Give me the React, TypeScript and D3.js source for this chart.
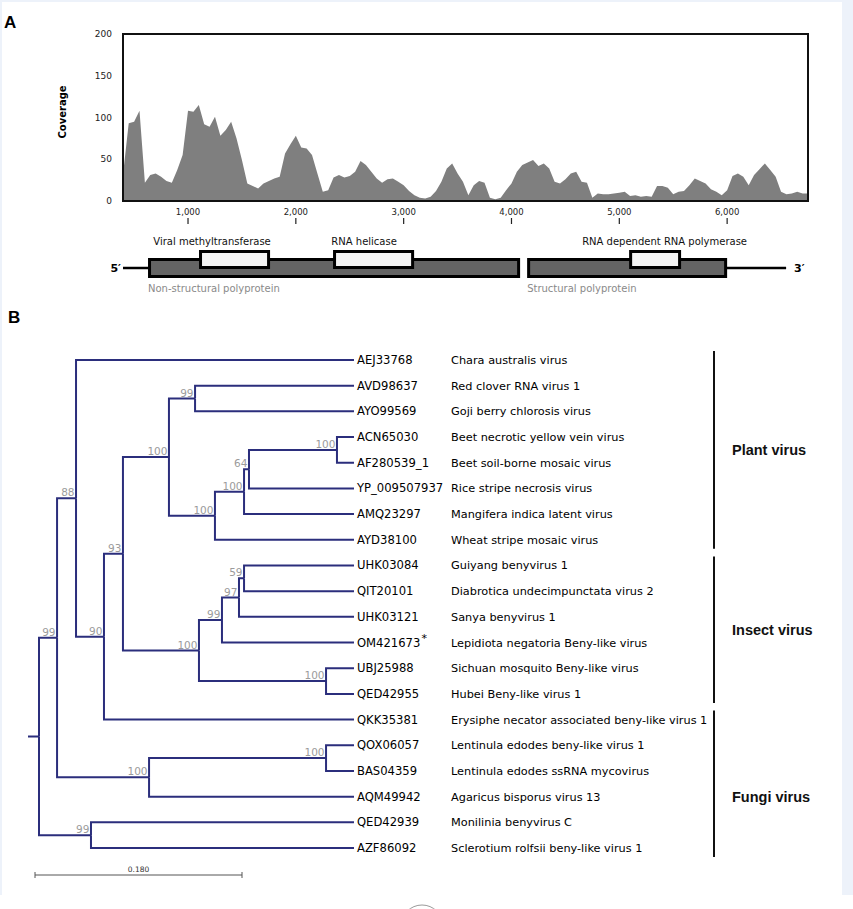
import * as d3 from 'd3';
import { useEffect, useRef } from 'react';

const W = 853;
const H = 909;

// coverage per 50 bp bin (first bin at 400 bp)
const covStart = 400;
const covStep = 50;
const coverage = [
  35, 93, 95, 108, 22, 31, 33, 29, 24, 22, 37, 55, 108, 107, 115, 92, 89, 101, 78, 85,
  95, 75, 49, 21, 18, 15, 21, 24, 27, 29, 57, 68, 78, 64, 63, 55, 33, 11, 13, 28,
  31, 28, 30, 35, 48, 43, 35, 27, 22, 26, 27, 23, 19, 12, 7, 4, 3, 5, 12, 23,
  39, 45, 33, 23, 7, 19, 24, 22, 4, 2, 4, 13, 21, 35, 43, 46, 49, 42, 45, 39,
  23, 21, 26, 33, 35, 23, 22, 4, 9, 8, 8, 9, 10, 11, 6, 7, 5, 6, 5, 18,
  18, 16, 8, 11, 12, 19, 27, 24, 21, 14, 11, 7, 13, 30, 33, 29, 19, 31, 38, 45,
  37, 29, 11, 8, 9, 11, 9, 9,
];
const yTicks = [0, 50, 100, 150, 200];
const xTicks = [1000, 2000, 3000, 4000, 5000, 6000];

// genome map (bp)
const genomeEnds: [number, number] = [397, 6547];
const genes: [string, number, number][] = [
  ['Non-structural polyprotein', 643, 4066],
  ['Structural polyprotein', 4159, 5986],
];
const domains: [string, number, number, number][] = [
  // name, start, end, label centre
  ['Viral methyltransferase', 1116, 1747, 1223],
  ['RNA helicase', 2359, 3083, 2633],
  ['RNA dependent RNA polymerase', 5105, 5559, 5420],
];

// phylogeny (branch lengths, bootstrap as internal labels)
const newick =
  '((((AEJ33768:0.2417,((((AVD98637:0.1382,AYO99569:0.1382)99:0.0227,' +
  '((((ACN65030:0.0148,AF280539_1:0.0148)100:0.0765,YP_009507937:0.0913)64:0.0043,AMQ23297:0.0956)100:0.0253,AYD38100:0.1209)100:0.0400)100:0.0400,' +
  '((((UHK03084:0.0956,QIT20101:0.0956)59:0.0044,UHK03121:0.1000)97:0.0148,OM421673:0.1148)99:0.0200,' +
  '(UBJ25988:0.0243,QED42955:0.0243)100:0.1105)100:0.0661)93:0.0165,QKK35381:0.2174)90:0.0243)88:0.0165,' +
  '((QOX06057:0.0243,BAS04359:0.0243)100:0.1539,AQM49942:0.1782)100:0.0800)99:0.0157,' +
  '(QED42939:0.2287,AZF86092:0.2287)99:0.0452);';

const accessions = [
  'AEJ33768', 'AVD98637', 'AYO99569', 'ACN65030', 'AF280539_1', 'YP_009507937',
  'AMQ23297', 'AYD38100', 'UHK03084', 'QIT20101', 'UHK03121', 'OM421673',
  'UBJ25988', 'QED42955', 'QKK35381', 'QOX06057', 'BAS04359', 'AQM49942',
  'QED42939', 'AZF86092',
];
const species = [
  'Chara australis virus', 'Red clover RNA virus 1', 'Goji berry chlorosis virus',
  'Beet necrotic yellow vein virus', 'Beet soil-borne mosaic virus',
  'Rice stripe necrosis virus', 'Mangifera indica latent virus', 'Wheat stripe mosaic virus',
  'Guiyang benyvirus 1', 'Diabrotica undecimpunctata virus 2', 'Sanya benyvirus 1',
  'Lepidiota negatoria Beny-like virus', 'Sichuan mosquito Beny-like virus',
  'Hubei Beny-like virus 1', 'Erysiphe necator associated beny-like virus 1',
  'Lentinula edodes beny-like virus 1', 'Lentinula edodes ssRNA mycovirus',
  'Agaricus bisporus virus 13', 'Monilinia benyvirus C', 'Sclerotium rolfsii beny-like virus 1',
];
const novel = 'OM421673';
const groups: [string, number, number, number][] = [
  // label, first row, last row, label row
  ['Plant virus', 0, 7, 3.5],
  ['Insect virus', 8, 13, 10.5],
  ['Fungi virus', 14, 19, 17],
];
const scaleBarValue = 0.18;

interface NwkNode {
  name: string;
  length: number;
  children: NwkNode[];
}

function parseNewick(s: string): NwkNode {
  let i = 0;
  const read = (): NwkNode => {
    const n: NwkNode = { name: '', length: 0, children: [] };
    if (s[i] === '(') {
      i++;
      n.children.push(read());
      while (s[i] === ',') {
        i++;
        n.children.push(read());
      }
      i++; // ')'
    }
    while (i < s.length && !',():;'.includes(s[i])) n.name += s[i++];
    if (s[i] === ':') {
      i++;
      let num = '';
      while (i < s.length && !',();'.includes(s[i])) num += s[i++];
      n.length = +num;
    }
    return n;
  };
  return read();
}

const SANS = 'DejaVu Sans, Verdana, sans-serif';
const ARIAL = 'Liberation Sans, Arial, sans-serif';
const NAVY = '#2b2e7c';

const App = () => {
  const ref = useRef<SVGSVGElement | null>(null);

  useEffect(() => {
    if (!ref.current) return;
    const svg = d3.select(ref.current);
    svg.selectAll('*').remove();

    // page frame
    svg.append('rect').attr('width', W).attr('height', 895).attr('fill', '#edf2fa');
    svg.append('rect').attr('x', 2).attr('y', 2).attr('width', 840).attr('height', 893).attr('fill', '#fff');
    svg
      .append('circle')
      .attr('cx', 422)
      .attr('cy', 926)
      .attr('r', 21)
      .attr('fill', 'none')
      .attr('stroke', '#9a9a9a')
      .attr('stroke-width', 1);

    // ---------- A: coverage ----------
    const x = d3.scaleLinear().domain([397, 6750]).range([123, 808]);
    const y = d3.scaleLinear().domain([0, 200]).range([201, 34]);

    svg
      .append('text')
      .attr('x', 4)
      .attr('y', 28)
      .attr('font-family', ARIAL)
      .attr('font-weight', 700)
      .attr('font-size', 17)
      .text('A');

    const area = d3
      .area<number>()
      .x((_, i) => x(covStart + i * covStep))
      .y0(y(0))
      .y1((d) => y(d));

    svg.append('path').datum(coverage).attr('d', area).attr('fill', '#7f7f7f');

    svg
      .append('rect')
      .attr('x', 123)
      .attr('y', 34)
      .attr('width', 685)
      .attr('height', 167)
      .attr('fill', 'none')
      .attr('stroke', '#111')
      .attr('stroke-width', 2);

    svg
      .append('g')
      .selectAll('text')
      .data(yTicks)
      .join('text')
      .attr('x', 112)
      .attr('y', (d) => y(d))
      .attr('dy', '0.35em')
      .attr('text-anchor', 'end')
      .attr('font-family', SANS)
      .attr('font-size', 9)
      .attr('fill', '#222')
      .text((d) => d);

    const xt = svg.append('g').selectAll('g').data(xTicks).join('g');
    xt.append('text')
      .attr('x', (d) => x(d))
      .attr('y', 215)
      .attr('text-anchor', 'middle')
      .attr('font-family', SANS)
      .attr('font-size', 8.5)
      .attr('fill', '#222')
      .text((d) => d3.format(',')(d));
    xt.append('line')
      .attr('x1', (d) => x(d))
      .attr('x2', (d) => x(d))
      .attr('y1', 218)
      .attr('y2', 224)
      .attr('stroke', '#222')
      .attr('stroke-width', 1.2);

    svg
      .append('text')
      .attr('transform', 'translate(66,112) rotate(-90)')
      .attr('text-anchor', 'middle')
      .attr('font-family', SANS)
      .attr('font-weight', 700)
      .attr('font-size', 10)
      .text('Coverage');

    // genome map
    const gy = 268;
    svg
      .append('line')
      .attr('x1', x(genomeEnds[0]))
      .attr('x2', x(genes[0][1]))
      .attr('y1', gy)
      .attr('y2', gy)
      .attr('stroke', '#000')
      .attr('stroke-width', 2.5);
    svg
      .append('line')
      .attr('x1', x(genes[genes.length - 1][2]))
      .attr('x2', x(genomeEnds[1]))
      .attr('y1', gy)
      .attr('y2', gy)
      .attr('stroke', '#000')
      .attr('stroke-width', 2.5);

    svg
      .append('g')
      .selectAll('rect')
      .data(genes)
      .join('rect')
      .attr('x', (d) => x(d[1]))
      .attr('width', (d) => x(d[2]) - x(d[1]))
      .attr('y', 259.5)
      .attr('height', 17)
      .attr('fill', '#646464')
      .attr('stroke', '#000')
      .attr('stroke-width', 3);

    svg
      .append('g')
      .selectAll('text')
      .data(genes)
      .join('text')
      .attr('x', (d) => x(d[1]) - 1.5)
      .attr('y', 292)
      .attr('font-family', SANS)
      .attr('font-size', 10)
      .attr('fill', '#8a8a8a')
      .text((d) => d[0]);

    svg
      .append('g')
      .selectAll('rect')
      .data(domains)
      .join('rect')
      .attr('x', (d) => x(d[1]))
      .attr('width', (d) => x(d[2]) - x(d[1]))
      .attr('y', 251.5)
      .attr('height', 16)
      .attr('fill', '#f4f4f4')
      .attr('stroke', '#000')
      .attr('stroke-width', 3);

    svg
      .append('g')
      .selectAll('text')
      .data(domains)
      .join('text')
      .attr('x', (d) => x(d[3]))
      .attr('y', 245)
      .attr('text-anchor', 'middle')
      .attr('font-family', SANS)
      .attr('font-size', 10)
      .attr('fill', '#111')
      .text((d) => d[0]);

    svg
      .append('text')
      .attr('x', 121)
      .attr('y', 272)
      .attr('text-anchor', 'end')
      .attr('font-family', SANS)
      .attr('font-weight', 700)
      .attr('font-size', 11)
      .text('5′');
    svg
      .append('text')
      .attr('x', 794)
      .attr('y', 272)
      .attr('font-family', SANS)
      .attr('font-weight', 700)
      .attr('font-size', 11)
      .text('3′');

    // ---------- B: tree ----------
    svg
      .append('text')
      .attr('x', 8)
      .attr('y', 323)
      .attr('font-family', ARIAL)
      .attr('font-weight', 700)
      .attr('font-size', 17)
      .text('B');

    const root = d3.hierarchy<NwkNode>(parseNewick(newick), (d) =>
      d.children.length ? d.children : null
    );
    const dist = new Map<d3.HierarchyNode<NwkNode>, number>();
    root.eachBefore((n) => dist.set(n, (n.parent ? dist.get(n.parent)! : 0) + (n.parent ? n.data.length : 0)));

    const tx = d3.scaleLinear().domain([0, scaleBarValue]).range([39, 246]);
    const ty = d3.scaleLinear().domain([0, accessions.length - 1]).range([360, 848]);
    const ypos = new Map<d3.HierarchyNode<NwkNode>, number>();
    root.eachAfter((n) => {
      if (!n.children) ypos.set(n, ty(accessions.indexOf(n.data.name)));
      else ypos.set(n, (ypos.get(n.children[0])! + ypos.get(n.children[n.children.length - 1])!) / 2);
    });
    const X = (n: d3.HierarchyNode<NwkNode>) => tx(dist.get(n)!);
    const Y = (n: d3.HierarchyNode<NwkNode>) => ypos.get(n)!;

    const tg = svg.append('g');
    tg.selectAll('path')
      .data(root.descendants().filter((n) => n.parent))
      .join('path')
      .attr('d', (n) => `M${X(n.parent!)},${Y(n.parent!)}V${Y(n)}H${X(n)}`)
      .attr('fill', 'none')
      .attr('stroke', NAVY)
      .attr('stroke-width', 2);
    tg.append('line')
      .attr('x1', X(root) - 11)
      .attr('x2', X(root))
      .attr('y1', Y(root))
      .attr('y2', Y(root))
      .attr('stroke', NAVY)
      .attr('stroke-width', 2);

    // bootstrap values
    tg.selectAll('text.bs')
      .data(root.descendants().filter((n) => n.children && n.data.name))
      .join('text')
      .attr('class', 'bs')
      .attr('x', (n) => X(n) - 1.5)
      .attr('y', (n) => Y(n) - 2)
      .attr('text-anchor', 'end')
      .attr('font-family', SANS)
      .attr('font-size', 10.5)
      .attr('fill', '#9b9b9b')
      .text((n) => n.data.name);

    const leaves = root.leaves();
    const lab = tg.selectAll('text.acc').data(leaves).join('text');
    lab
      .attr('class', 'acc')
      .attr('x', (n) => X(n) + 3)
      .attr('y', (n) => Y(n) + 4)
      .attr('font-family', SANS)
      .attr('font-size', 11.6)
      .attr('fill', '#000')
      .text((n) => n.data.name);
    lab
      .filter((n) => n.data.name === novel)
      .append('tspan')
      .attr('dx', 1)
      .attr('dy', -5)
      .attr('font-size', 11)
      .text('*');

    tg.selectAll('text.sp')
      .data(leaves)
      .join('text')
      .attr('class', 'sp')
      .attr('x', 451)
      .attr('y', (n) => Y(n) + 4)
      .attr('font-family', SANS)
      .attr('font-size', 11.3)
      .attr('fill', '#000')
      .text((n) => species[accessions.indexOf(n.data.name)]);

    // clade bars
    const gg = svg.append('g').selectAll('g').data(groups).join('g');
    gg.append('line')
      .attr('x1', 714)
      .attr('x2', 714)
      .attr('y1', (d) => ty(d[1]) - 9)
      .attr('y2', (d) => ty(d[2]) + 9)
      .attr('stroke', '#111')
      .attr('stroke-width', 2);
    gg.append('text')
      .attr('x', 732)
      .attr('y', (d) => ty(d[3]) + 5)
      .attr('font-family', ARIAL)
      .attr('font-weight', 700)
      .attr('font-size', 14.5)
      .attr('fill', '#111')
      .text((d) => d[0]);

    // scale bar
    const sbx = 35;
    const sbw = tx(scaleBarValue) - tx(0);
    const sb = svg.append('g').attr('stroke', '#555').attr('stroke-width', 1);
    sb.append('line').attr('x1', sbx).attr('x2', sbx + sbw).attr('y1', 875).attr('y2', 875);
    sb.append('line').attr('x1', sbx).attr('x2', sbx).attr('y1', 872).attr('y2', 878);
    sb.append('line').attr('x1', sbx + sbw).attr('x2', sbx + sbw).attr('y1', 872).attr('y2', 878);
    svg
      .append('text')
      .attr('x', sbx + sbw / 2)
      .attr('y', 872)
      .attr('text-anchor', 'middle')
      .attr('font-family', SANS)
      .attr('font-size', 7.5)
      .attr('fill', '#333')
      .text(d3.format('.3f')(scaleBarValue));
  }, []);

  return (
    <svg
      ref={ref}
      width={W}
      height={H}
      style={{ position: 'absolute', left: 0, top: 0, display: 'block', background: '#fff' }}
    />
  );
};

export default App;
